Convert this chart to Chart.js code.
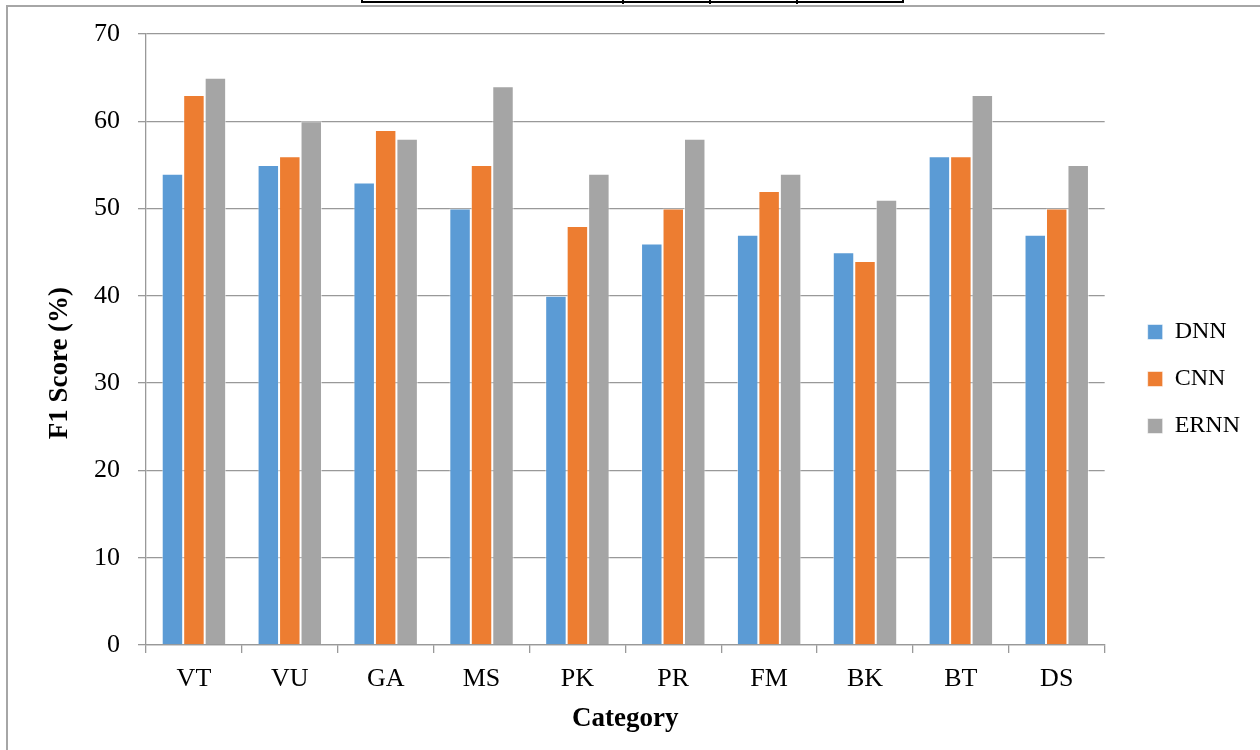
<!DOCTYPE html>
<html>
<head>
<meta charset="utf-8">
<script src="https://cdn.jsdelivr.net/npm/chart.js@4/dist/chart.umd.min.js"></script>
<style>
    body { margin: 0; background: #fff; }
    #wrap { position: relative; width: 1260px; height: 750px; overflow: hidden; }
    #f1Chart { position: absolute; left: 0; top: 0; }
    .frameTop { position: absolute; left: 7px; top: 5px; width: 1253px; height: 0; border-top: 2px solid #a6a6a6; }
    .frameLeft { position: absolute; left: 6px; top: 5px; width: 0; height: 745px; border-left: 2px solid #a6a6a6; }
    .tblRow { position: absolute; left: 361px; top: -2px; width: 539px; height: 3px; border: 2px solid #000; border-top: none; }
    .tblCol { position: absolute; top: 0; width: 2px; height: 4px; background: #000; }
</style>
</head>
<body>
<div id="wrap">
    <canvas id="f1Chart" width="1260" height="750"></canvas>
    <div class="frameTop"></div>
    <div class="frameLeft"></div>
    <div class="tblRow"></div>
    <div class="tblCol" style="left:622px"></div>
    <div class="tblCol" style="left:709px"></div>
    <div class="tblCol" style="left:796px"></div>
</div>
<script>
// Data
const categories = ['VT', 'VU', 'GA', 'MS', 'PK', 'PR', 'FM', 'BK', 'BT', 'DS'];
const seriesNames = ['DNN', 'CNN', 'ERNN'];
const dnnScores = [54, 55, 53, 50, 40, 46, 47, 45, 56, 47];
const cnnScores = [63, 56, 59, 55, 48, 50, 52, 44, 56, 50];
const ernnScores = [65, 60, 58, 64, 54, 58, 54, 51, 63, 55];
const yTicks = [0, 10, 20, 30, 40, 50, 60, 70];

const serif = "'Liberation Serif', 'Times New Roman', serif";
const gridGray = '#999999';
const colors = ['#5B9BD5', '#ED7D31', '#A5A5A5'];

const ctx = document.getElementById('f1Chart').getContext('2d');
const f1Chart = new Chart(ctx, {
    type: 'bar',
    data: {
        labels: categories,
        datasets: [dnnScores, cnnScores, ernnScores].map((d, i) => ({
            label: seriesNames[i],
            data: d,
            backgroundColor: colors[i],
            borderColor: 'rgba(255,255,255,0.55)',
            borderWidth: 1,
            categoryPercentage: 0.672,
            barPercentage: 1
        }))
    },
    options: {
        responsive: false,
        animation: false,
        devicePixelRatio: 1,
        layout: { padding: { left: 44, right: 10, top: 8, bottom: 0 } },
        plugins: {
            legend: {
                position: 'right',
                labels: {
                    font: { family: serif, size: 24 },
                    color: '#000',
                    boxWidth: 15,
                    boxHeight: 15,
                    padding: 23
                }
            },
            tooltip: { enabled: false }
        },
        scales: {
            x: {
                grid: { drawOnChartArea: false, tickLength: 8, color: gridGray, lineWidth: 1.3 },
                border: { color: gridGray, width: 1.3 },
                ticks: { font: { family: serif, size: 26 }, color: '#000', padding: 11 },
                title: {
                    display: true,
                    text: 'Category',
                    font: { family: serif, size: 27, weight: 'bold' },
                    color: '#000',
                    padding: { top: 0, bottom: 15 }
                },
                afterFit: s => { s.height = 105; }
            },
            xTop: {
                type: 'category',
                position: 'top',
                grid: { display: false },
                border: { display: false },
                ticks: { display: false },
                afterFit: s => { s.height = 26; }
            },
            y: {
                min: 0,
                max: 70,
                afterBuildTicks: s => { s.ticks = yTicks.map(v => ({ value: v })); },
                grid: { color: gridGray, lineWidth: 1.3, tickLength: 8 },
                border: { color: gridGray, width: 1.3 },
                ticks: { font: { family: serif, size: 26 }, color: '#000', padding: 18 },
                title: {
                    display: true,
                    text: 'F1 Score (%)       ',
                    font: { family: serif, size: 27, weight: 'bold' },
                    color: '#000',
                    padding: { top: 0, bottom: 0 }
                },
                afterFit: s => { s.width = 102; }
            },
            yRight: {
                type: 'linear',
                position: 'right',
                grid: { display: false },
                border: { display: false },
                ticks: { display: false },
                afterFit: s => { s.width = 20; }
            }
        }
    }
});
</script>
</body>
</html>
